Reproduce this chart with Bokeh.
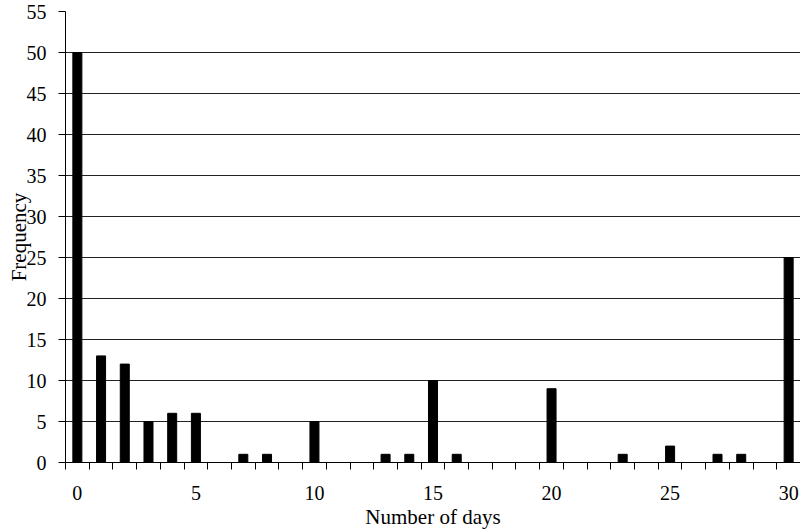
from bokeh.plotting import figure
from bokeh.models import FixedTicker, Range1d
from bokeh.embed import file_html
from bokeh.resources import INLINE

days = list(range(0, 31))
freq = [50, 13, 12, 5, 6, 6, 0, 1, 1, 0, 5, 0, 0, 1, 1, 10, 1, 0, 0, 0, 9, 0, 0, 1, 0, 2, 0, 1, 1, 0, 25]
x_tick_labels = [0, 5, 10, 15, 20, 25, 30]
y_ticks = [0, 5, 10, 15, 20, 25, 30, 35, 40, 45, 50, 55]

FONT = "Liberation Serif"

p = figure(width=800, height=531, output_backend="svg", toolbar_location=None,
           x_range=Range1d(-0.5, 30.5), y_range=Range1d(0, 55),
           min_border_left=65, min_border_right=0, min_border_top=11, min_border_bottom=69)
p.outline_line_color = None
p.background_fill_color = "white"
p.border_fill_color = "white"

p.vbar(x=days, top=freq, width=0.38, color="black")

# x axis
p.xaxis.ticker = FixedTicker(ticks=x_tick_labels, minor_ticks=[d - 0.5 for d in days] + [30.5])
p.xaxis.major_tick_out = 0
p.xaxis.major_tick_in = 0
p.xaxis.minor_tick_out = 7
p.xaxis.minor_tick_in = 0
p.xaxis.minor_tick_line_color = "black"
p.xaxis.axis_line_color = "black"
p.xaxis.axis_label = "Number of days"
p.xaxis.major_label_standoff = 16
p.xaxis.axis_label_standoff = 2

# y axis
p.yaxis.ticker = FixedTicker(ticks=y_ticks)
p.yaxis.major_tick_out = 7
p.yaxis.major_tick_in = 0
p.yaxis.minor_tick_line_color = None
p.yaxis.axis_line_color = "black"
p.yaxis.major_tick_line_color = "black"
p.yaxis.axis_label = "Frequency"
p.yaxis.major_label_standoff = 12
p.yaxis.axis_label_standoff = -7

for ax in (p.xaxis, p.yaxis):
    ax.major_label_text_font = FONT
    ax.major_label_text_font_size = "20px"
    ax.major_label_text_color = "black"
    ax.axis_label_text_font = FONT
    ax.axis_label_text_font_size = "21px"
    ax.axis_label_text_font_style = "normal"
    ax.axis_label_text_color = "black"

p.xgrid.grid_line_color = None
p.ygrid.grid_line_color = "#222222"
p.ygrid.grid_line_width = 1

open("out.html", "w").write(file_html(p, INLINE))
